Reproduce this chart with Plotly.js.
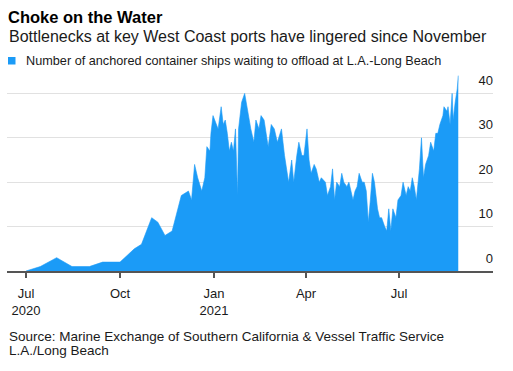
<!DOCTYPE html>
<html>
<head>
<meta charset="utf-8">
<script src="https://cdn.plot.ly/plotly-3.0.1.min.js"></script>
<style>
  html, body { margin: 0; padding: 0; background: #fff; }
  #chart { width: 513px; height: 371px; }
</style>
</head>
<body>
<div id="chart"></div>
<script>
// ---- Data ----
const dates = [
  '2020-07-01','2020-07-15','2020-07-31','2020-08-15','2020-09-01','2020-09-14','2020-10-01',
  '2020-10-15','2020-10-22','2020-11-01','2020-11-07','2020-11-14','2020-11-21','2020-11-30',
  '2020-12-07','2020-12-10','2020-12-13','2020-12-16','2020-12-20','2020-12-23','2020-12-25',
  '2020-12-28','2020-12-29','2020-12-31',
  '2021-01-05','2021-01-08','2021-01-10','2021-01-12','2021-01-14','2021-01-16','2021-01-18',
  '2021-01-20','2021-01-22','2021-01-24','2021-01-25','2021-01-28','2021-01-31',
  '2021-02-03','2021-02-06','2021-02-09','2021-02-11','2021-02-14','2021-02-16','2021-02-19',
  '2021-02-23','2021-02-26',
  '2021-03-01','2021-03-04','2021-03-08','2021-03-11','2021-03-13','2021-03-15','2021-03-18',
  '2021-03-20','2021-03-23','2021-03-25','2021-03-28','2021-03-30',
  '2021-04-02','2021-04-04','2021-04-06','2021-04-09','2021-04-11','2021-04-14','2021-04-16',
  '2021-04-20','2021-04-22','2021-04-25','2021-04-27','2021-04-29',
  '2021-05-01','2021-05-04','2021-05-06','2021-05-08','2021-05-11','2021-05-13','2021-05-17',
  '2021-05-19','2021-05-21','2021-05-23','2021-05-26','2021-05-28','2021-05-30',
  '2021-06-01','2021-06-03','2021-06-05','2021-06-07','2021-06-10','2021-06-12','2021-06-14',
  '2021-06-17','2021-06-19','2021-06-21','2021-06-23','2021-06-25','2021-06-28','2021-06-30',
  '2021-07-03','2021-07-05','2021-07-08','2021-07-10','2021-07-12','2021-07-14','2021-07-16',
  '2021-07-18','2021-07-21','2021-07-23','2021-07-25','2021-07-27','2021-07-30',
  '2021-08-01','2021-08-04','2021-08-06','2021-08-08','2021-08-10','2021-08-13','2021-08-14',
  '2021-08-17','2021-08-18','2021-08-20','2021-08-22','2021-08-23','2021-08-25','2021-08-27',
  '2021-08-28'
];
const ships = [
  0,1,3,1,1,2,2,
  5,6,12,11,8,9,17,
  18,16,24,21,18,21,28,
  27,31,35,
  32,37,33,34,31,27,29,
  27,32,17,32,38,40,
  36,32,29,34,32,35,34,
  28,33,
  32,29,32,26,23,20,25,
  20,26,29,26,26,
  32,25,22,24,23,20,21,
  20,17,19,23,16,
  20,19,22,20,19,20,16,
  18,19,22,20,20,18,
  11,16,22,20,14,12,12,
  10,9,14,9,14,12,16,
  17,20,17,19,18,21,19,
  16,23,30,21,24,26,
  29,27,31,31,33,35,37,
  36,37,33,40,34,38,41,
  44
];
const xTickVals = ['2020-07-01','2020-10-01','2021-01-01','2021-04-01','2021-07-01'];
const xTickText = ['Jul<br>2020','Oct','Jan<br>2021','Apr','Jul'];
const yTickVals = [0,10,20,30,40];

const titleText = 'Choke on the Water';
const subtitleText = 'Bottlenecks at key West Coast ports have lingered since November';
const legendText = 'Number of anchored container ships waiting to offload at L.A.-Long Beach';
const sourceLine1 = 'Source: Marine Exchange of Southern California & Vessel Traffic Service';
const sourceLine2 = 'L.A./Long Beach';

// ---- Chart ----
const BLUE = '#1b9bf7';
const FONT = '"Liberation Sans", Arial, Helvetica, sans-serif';
const W = 513, H = 371;
const MT = 62, MB = 100, ML = 7, MR = 20;
const PH = H - MT - MB, PW = W - ML - MR;
const py = (pix) => (H - MB - pix) / PH;   // paper y from pixel y
const px = (pix) => (pix - ML) / PW;       // paper x from pixel x

const trace = {
  type: 'scatter',
  mode: 'lines',
  x: dates,
  y: ships,
  fill: 'tozeroy',
  fillcolor: BLUE,
  line: { color: BLUE, width: 0.6, shape: 'linear' },
  hoverinfo: 'x+y',
  showlegend: false
};

const layout = {
  width: W, height: H,
  paper_bgcolor: '#fff', plot_bgcolor: '#fff',
  margin: { l: ML, r: MR, t: MT, b: MB, pad: 0 },
  font: { family: FONT, color: '#1a1a1a', size: 13 },
  showlegend: false,
  title: {
    text: '<b>' + titleText + '</b>',
    font: { family: FONT, size: 16.5, color: '#000' },
    xref: 'container', yref: 'container',
    x: 8 / W, xanchor: 'left',
    y: 1 - 17 / H, yanchor: 'middle'
  },
  xaxis: {
    type: 'date',
    range: ['2020-06-12 10:00', '2021-10-01'],
    tickmode: 'array',
    tickvals: xTickVals,
    ticktext: xTickText,
    ticks: 'outside', ticklen: 5, tickwidth: 1.5, tickcolor: '#555',
    showline: true, linecolor: '#555', linewidth: 1.5,
    showgrid: false, zeroline: false,
    tickfont: { family: FONT, size: 13, color: '#1a1a1a' },
    ticklabelstandoff: 5,
    fixedrange: true
  },
  yaxis: {
    range: [0, PH / 4.44],
    side: 'right',
    tickmode: 'array',
    tickvals: yTickVals,
    ticks: '',
    ticklabelposition: 'inside',
    ticklabelshift: -13,
    ticklabelstandoff: -3,
    showgrid: true, gridcolor: '#e1e1e1', gridwidth: 1.2,
    zeroline: false, showline: false,
    tickfont: { family: FONT, size: 13, color: '#1a1a1a' },
    fixedrange: true
  },
  shapes: [{
    type: 'rect', xref: 'paper', yref: 'paper',
    x0: px(8), x1: px(15.5),
    y0: py(64.5), y1: py(57),
    fillcolor: BLUE, line: { width: 0 }
  }],
  annotations: [
    { text: subtitleText, xref: 'paper', yref: 'paper', showarrow: false,
      x: px(7), xanchor: 'left', y: py(37), yanchor: 'middle',
      font: { family: FONT, size: 16, color: '#1a1a1a' } },
    { text: legendText, xref: 'paper', yref: 'paper', showarrow: false,
      x: px(24), xanchor: 'left', y: py(61.5), yanchor: 'middle',
      font: { family: FONT, size: 12.7, color: '#1a1a1a' } },
    { text: sourceLine1, xref: 'paper', yref: 'paper', showarrow: false,
      x: px(7), xanchor: 'left', y: py(336), yanchor: 'middle',
      font: { family: FONT, size: 13.5, color: '#1a1a1a' } },
    { text: sourceLine2, xref: 'paper', yref: 'paper', showarrow: false,
      x: px(7), xanchor: 'left', y: py(350.5), yanchor: 'middle',
      font: { family: FONT, size: 13.5, color: '#1a1a1a' } }
  ]
};

Plotly.newPlot('chart', [trace], layout, { displayModeBar: false, staticPlot: true });
</script>
</body>
</html>
